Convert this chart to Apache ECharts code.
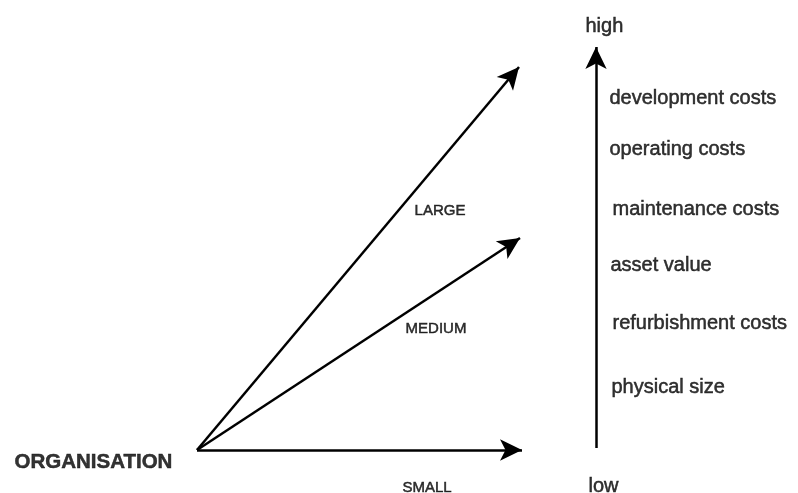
<!DOCTYPE html>
<html>
<head>
<meta charset="utf-8">
<script src="https://cdn.jsdelivr.net/npm/echarts@6/dist/echarts.min.js"></script>
<style>
  html, body { margin: 0; padding: 0; background: #fff; }
  #main { width: 798px; height: 493px; }
</style>
</head>
<body>
<div id="main"></div>
<script>
// diagram geometry, in picture units (x right, y down)
const origin = [197, 450];
const sizeNames = ['LARGE', 'MEDIUM', 'SMALL'];
const sizeTips = [[519, 67], [520, 238], [522, 450]];
const sizeLabelAt = [[440, 211], [436, 329], [427, 488]];

const scaleFrom = [596, 448];
const scaleTip = [596, 47];
const scaleEnds = ['high', 'low'];
const scaleEndAt = [[585, 26], [588, 486]];

const costNames = ['development costs', 'operating costs', 'maintenance costs',
    'asset value', 'refurbishment costs', 'physical size'];
const costAt = [[609, 98], [609, 149], [612, 209], [610, 265], [612, 323], [611, 387]];

const orgName = 'ORGANISATION';
const orgAt = [14, 462];

const HEAD = [16, 22]; // arrow head width / length
const FONT = "'Liberation Sans', Arial, sans-serif";

const arrows = sizeTips.map(function (tip) {
    return { coords: [origin, tip] };
});
arrows.push({ coords: [scaleFrom, scaleTip] });

function textSeries(names, positions, pos, size, weight) {
    return {
        type: 'scatter',
        silent: true,
        symbolSize: 1,
        itemStyle: { color: 'rgba(0,0,0,0)' },
        label: {
            show: true,
            position: pos,
            distance: 0,
            formatter: '{b}',
            color: '#000',
            textBorderColor: '#000',
            textBorderWidth: 0.5,
            fontFamily: FONT,
            fontSize: size,
            fontWeight: weight,
            align: pos === 'inside' ? 'center' : 'left',
            verticalAlign: 'middle'
        },
        data: names.map(function (n, i) {
            return { name: n, value: positions[i] };
        })
    };
}

const chart = echarts.init(document.getElementById('main'));
chart.setOption({
    animation: false,
    backgroundColor: '#fff',
    grid: { left: 0, right: 0, top: 0, bottom: 0 },
    xAxis: { type: 'value', min: 0, max: 798, show: false },
    yAxis: { type: 'value', min: 0, max: 493, inverse: true, show: false },
    series: [
        {
            type: 'lines',
            coordinateSystem: 'cartesian2d',
            silent: true,
            symbol: ['none', 'arrow'],
            symbolSize: [0, HEAD],
            lineStyle: { color: '#000', width: 2.5, opacity: 1 },
            data: arrows
        },
        textSeries(sizeNames, sizeLabelAt, 'inside', 15, 'normal'),
        textSeries(costNames, costAt, 'right', 20, 'normal'),
        textSeries(scaleEnds, scaleEndAt, 'right', 20, 'normal'),
        textSeries([orgName], [orgAt], 'right', 20.5, 'bold')
    ]
});
</script>
</body>
</html>
